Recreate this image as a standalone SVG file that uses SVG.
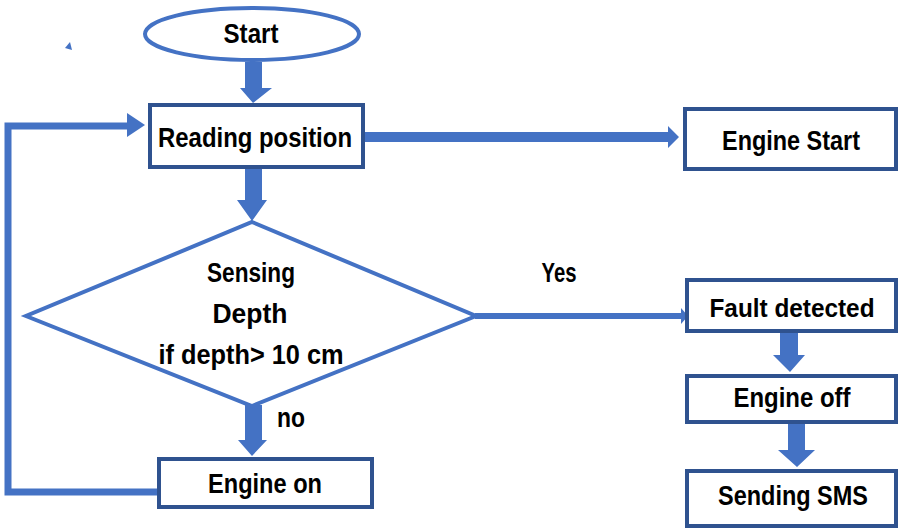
<svg xmlns="http://www.w3.org/2000/svg" width="900" height="529" viewBox="0 0 900 529">
<defs>
<style>
.box{fill:#fff;stroke:#2F528F;stroke-width:4}
.shape{fill:#fff;stroke:#4472C4;stroke-width:4}
.blk{fill:#4472C4}
.line{fill:none;stroke:#4472C4}
text{font-family:"Liberation Sans",Arial,sans-serif;font-weight:bold;font-size:28.5px;fill:#000;text-anchor:middle}
.sm{font-size:26px}
</style>
</defs>
<rect width="900" height="529" fill="#fff"/>
<polygon class="blk" points="70,42 72,50 65,48"/>
<g id="connectors">
<polygon class="blk" points="245,62 262,62 262,88 272,88 253,103 240,88 245,88"/>
<polygon class="blk" points="245,168 262,168 262,200 267,200 252,221 237,200 245,200"/>
<polygon class="blk" points="245,405 262,405 262,440 267,440 252,456 238,440 245,440"/>
<polygon class="blk" points="364,132 668,132 668,126 679,137 668,148 668,142 364,142"/>
<polygon class="blk" points="475,313 681,313 681,308 688,316 681,324 681,319 475,319"/>
<polygon class="blk" points="780,332 798,332 798,355 805,355 790,372 773,355 780,355"/>
<polygon class="blk" points="788,423 805,423 805,450 815,450 797,467 778,450 788,450"/>
<polyline class="line" stroke-width="7" points="157,492 8,492 8,126 128,126"/>
<polygon class="blk" points="127,113 145,125 127,137"/>
<text x="559" y="282" textLength="35" lengthAdjust="spacingAndGlyphs">Yes</text>
<text x="291" y="427" textLength="28" lengthAdjust="spacingAndGlyphs">no</text>
</g>
<g id="start">
<ellipse class="shape" cx="252" cy="34" rx="107" ry="26"/>
<text x="251" y="43" textLength="55" lengthAdjust="spacingAndGlyphs">Start</text>
</g>
<g id="reading">
<rect class="box" x="150" y="105" width="213" height="62"/>
<text x="255" y="147" textLength="194" lengthAdjust="spacingAndGlyphs">Reading position</text>
</g>
<g id="engine-start">
<rect class="box" x="685" y="109" width="211" height="60"/>
<text x="791" y="150" textLength="138" lengthAdjust="spacingAndGlyphs">Engine Start</text>
</g>
<g id="decision">
<polygon class="shape" points="252,222 476,316 252,406 26,316"/>
<text x="251" y="282" textLength="88" lengthAdjust="spacingAndGlyphs">Sensing</text>
<text x="250" y="323" textLength="75" lengthAdjust="spacingAndGlyphs">Depth</text>
<text x="251" y="364" textLength="185" lengthAdjust="spacingAndGlyphs">if depth&gt; 10 cm</text>
</g>
<g id="engine-on">
<rect class="box" x="159" y="459" width="213" height="48"/>
<text x="265" y="493" textLength="114" lengthAdjust="spacingAndGlyphs">Engine on</text>
</g>
<g id="fault">
<rect class="box" x="687" y="280" width="209" height="51"/>
<text class="sm" x="792" y="317" textLength="165" lengthAdjust="spacingAndGlyphs">Fault detected</text>
</g>
<g id="engine-off">
<rect class="box" x="687" y="376" width="209" height="46"/>
<text x="792" y="407" textLength="117" lengthAdjust="spacingAndGlyphs">Engine off</text>
</g>
<g id="sms">
<rect class="box" x="687" y="471" width="209" height="55"/>
<text x="793" y="505" textLength="150" lengthAdjust="spacingAndGlyphs">Sending SMS</text>
</g>
</svg>
